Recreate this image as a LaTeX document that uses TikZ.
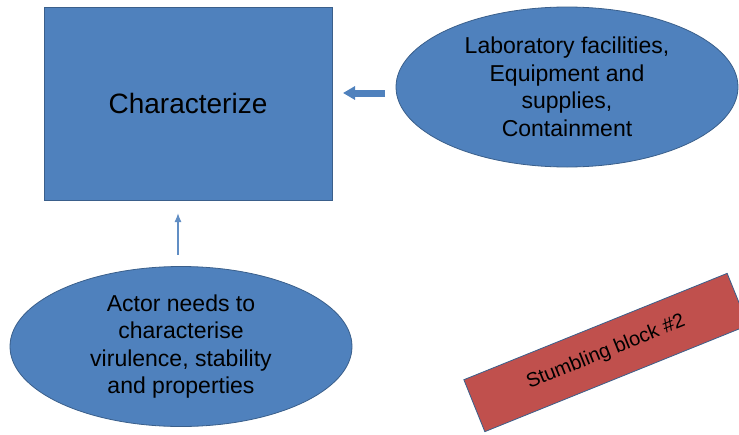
\documentclass[tikz,border=0pt]{standalone}
\usepackage{fontspec}
\setmainfont{Liberation Sans}
\usetikzlibrary{shapes.geometric}
\usetikzlibrary{arrows.meta}
\tikzset{>={Latex[width=1.5mm,length=1.5mm]}}
\definecolor{boxblue}{HTML}{4F81BD}
\definecolor{edgeblue}{HTML}{3A5F8B}
\definecolor{blockred}{HTML}{C0504D}

\begin{document}
\begin{tikzpicture}[
    x = 1pt, y = -1pt,
    box/.style = {draw=edgeblue, fill=boxblue, line width=0.8pt,
        inner sep = 0pt, outer sep = 0pt},
    oval/.style = {box, ellipse, align=center, minimum width=342pt,
        minimum height=160pt, font=\fontsize{23}{27.5}\selectfont},
    redblock/.style = {box, fill=blockred, rotate=22, minimum width=284pt,
        minimum height=56pt, font=\fontsize{20}{24}\selectfont},
    fatarrow/.style = {-{Triangle[width=13pt,length=12pt]}, boxblue,
        line width=7pt},
    thinarrow/.style = {-{Latex[width=7pt,length=9pt]}, boxblue!90!white,
        line width=1.3pt}
  ]
  \useasboundingbox (0,0) rectangle (739,434);

  \node[box, minimum width=288pt, minimum height=193pt,
    font=\fontsize{28}{32}\selectfont] (char) at (188,103.5) {Characterize};
  \node[oval] (lab) at (567,87) {Laboratory facilities,\\ Equipment and\\
    supplies,\\ Containment};
  \node[oval] (act) at (181,346.5) {Actor needs to\\ characterise\\
    virulence, stability\\ and properties};
  \node[redblock] (stumble) at (606,352.5) {Stumbling block \#2};

  \draw[fatarrow, shorten <=11pt, shorten >=11pt]
    ([yshift=-6pt]lab.west) -- ([yshift=-6pt]lab.west -| char.east);
  \draw[thinarrow, shorten <=12pt, shorten >=13pt]
    ([xshift=-3pt]act.north) -- ([xshift=-3pt]act.north |- char.south);
\end{tikzpicture}
\end{document}
